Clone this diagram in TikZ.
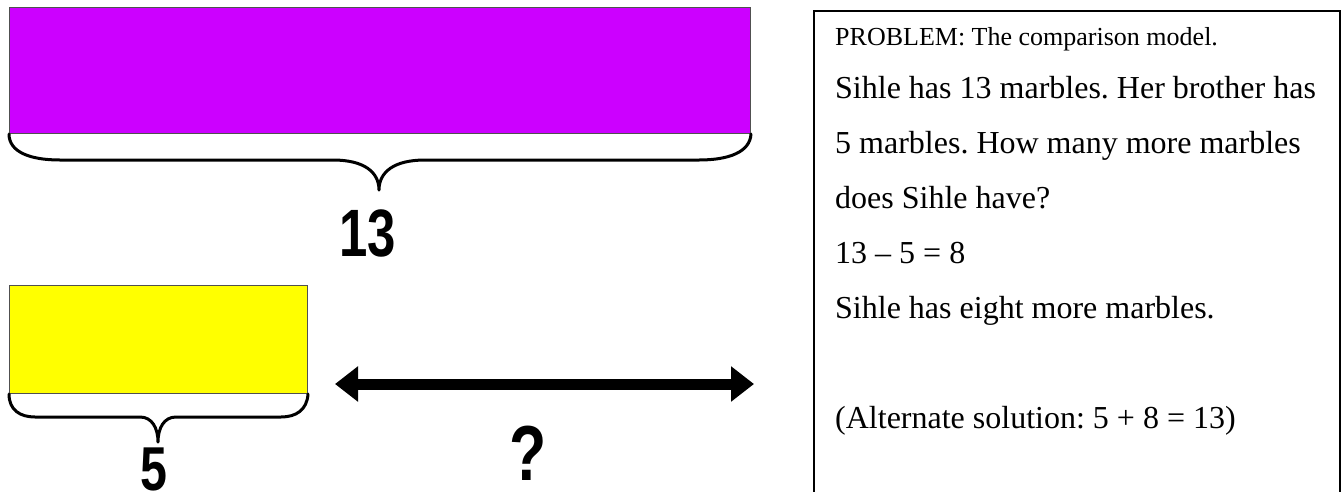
\documentclass[tikz,border=0pt]{standalone}
\usepackage{fontspec}
\usepackage{graphicx}
\setmainfont{Liberation Serif}
\newfontfamily\numfont{Liberation Sans}
\usetikzlibrary{arrows.meta}
\definecolor{barpurple}{HTML}{CC00FF}
\definecolor{baryellow}{HTML}{FFFF00}
\definecolor{barline}{HTML}{505050}
\frenchspacing

\begin{document}
\begin{tikzpicture}[x=1pt,y=-1pt,
  bar/.style={draw=barline, line width=1pt, rectangle, inner sep=0pt, anchor=north west},
  brace/.style={line width=3pt, line join=round, line cap=round},
  numlabel/.style={inner sep=0pt, font=\numfont\bfseries\fontsize{67}{67}\selectfont},
  bigtext/.style={anchor=base west, inner sep=0pt, font=\fontsize{32}{38}\selectfont},
  smalltext/.style={anchor=base west, inner sep=0pt, font=\fontsize{26}{30}\selectfont},
  gap/.style={line width=11pt, {Triangle[length=23pt,width=34pt]}-{Triangle[length=23pt,width=34pt]}}
]
\clip (0,0) rectangle (1342,491);

% the two bars
\node[bar, fill=barpurple, minimum width=741pt, minimum height=126pt] (pbar) at (9,7) {};
\node[bar, fill=baryellow, minimum width=298pt, minimum height=108pt] (ybar) at (9,285) {};

% brace under the long bar
\draw[brace] (pbar.south west) .. controls (9,152) and (30,160) .. (60,160) -- (333,160)
  .. controls (364,160) and (379,172) .. (379,190)
  .. controls (379,172) and (394,160) .. (425,160) -- (699,160)
  .. controls (729,160) and (750,152) .. (pbar.south east);

% brace under the short bar
\draw[brace] (ybar.south west) .. controls (9,410) and (20,417) .. (35,417) -- (140,417)
  .. controls (152,417) and (158,428) .. (158,442)
  .. controls (158,428) and (164,417) .. (176,417) -- (281,417)
  .. controls (296,417) and (307,410) .. (ybar.south east);

% difference arrow
\coordinate (gapL) at (335,384);
\coordinate (gapR) at (754,384);
\draw[gap] (gapL) -- (gapR);

% quantity labels
\node[numlabel] (n13) at (368,233) {\scalebox{0.76}[1]{13}};
\node[numlabel, font=\numfont\bfseries\fontsize{62}{62}\selectfont] (n5) at (154,469) {\scalebox{0.78}[1]{5}};
\node[numlabel, font=\numfont\bfseries\fontsize{78}{78}\selectfont] (qmark) at (528,453) {\scalebox{0.78}[1]{?}};

% problem statement box
\node[draw, line width=2pt, rectangle, inner sep=0pt, anchor=north west,
      minimum width=526pt, minimum height=500pt] (textbox) at (813,10) {};
\node[smalltext] (l0) at (835,45) {PROBLEM: The comparison model.};
\node[bigtext] (l1) at (835,98) {Sihle has 13 marbles. Her brother has};
\node[bigtext] (l2) at (835,153) {5 marbles. How many more marbles};
\node[bigtext] (l3) at (835,208) {does Sihle have?};
\node[bigtext] (l4) at (835,263) {13 – 5 = 8};
\node[bigtext] (l5) at (835,318) {Sihle has eight more marbles.};
\node[bigtext] (l6) at (835,428) {(Alternate solution: 5 + 8 = 13)};
\end{tikzpicture}
\end{document}
